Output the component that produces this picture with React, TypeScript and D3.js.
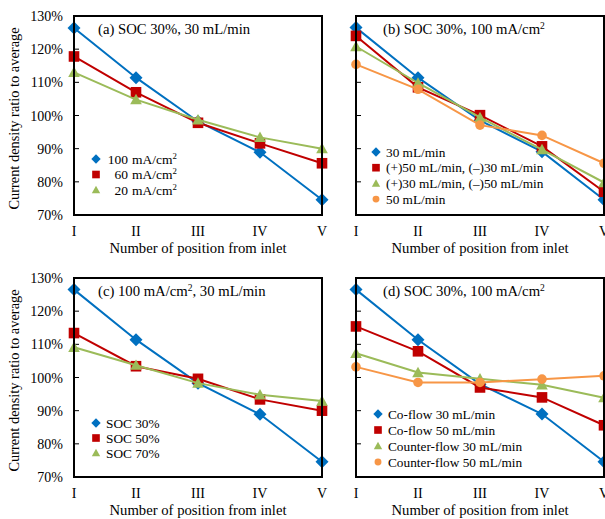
import React from "react";
import * as d3 from "d3";

// positions along the cell, inlet to outlet
const positions = ["I", "II", "III", "IV", "V"];
const yTicks = [70, 80, 90, 100, 110, 120, 130];

// (a) SOC 30%, 30 mL/min
const a100 = [126.4, 111.4, 98.2, 88.9, 74.6];
const a60 = [117.8, 107.0, 97.8, 91.6, 85.6];
const a20 = [113.0, 104.8, 98.7, 93.4, 90.0];

// (b) SOC 30%, 100 mA/cm2
const b30 = [126.5, 111.4, 98.5, 89.1, 74.6];
const b50p30n = [124.0, 108.5, 100.1, 90.7, 77.0];
const b30p50n = [120.8, 109.8, 99.4, 89.7, 79.8];
const b50 = [115.4, 107.9, 97.1, 94.0, 85.6];

// (c) 100 mA/cm2, 30 mL/min
const cSoc30 = [126.5, 111.4, 98.3, 88.9, 74.6];
const cSoc50 = [113.4, 103.4, 99.6, 93.4, 90.0];
const cSoc70 = [109.1, 103.7, 98.3, 94.8, 92.9];

// (d) SOC 30%, 100 mA/cm2
const dCo30 = [126.5, 111.4, 98.0, 89.0, 74.6];
const dCo50 = [115.4, 107.9, 97.0, 94.0, 85.6];
const dCounter30 = [107.3, 101.5, 99.6, 97.8, 93.9];
const dCounter50 = [103.2, 98.5, 98.5, 99.5, 100.5];

const BLUE = "#0070C0";
const RED = "#C00000";
const GREEN = "#9BBB59";
const ORANGE = "#F79646";
const FONT = "'Liberation Serif', 'Times New Roman', serif";

type Shape = "diamond" | "square" | "triangle" | "circle";
type Series = { values: number[]; color: string; shape: Shape; label: React.ReactNode };

const sup2 = (
  <tspan fontSize="0.65em" baselineShift="super">
    2
  </tspan>
);

const panels = [
  {
    left: 74,
    top: 16,
    title: <>(a) SOC 30%, 30 mL/min</>,
    yLabels: true,
    legend: { x: 96, y: 159, step: 15.5 },
    series: [
      { values: a100, color: BLUE, shape: "diamond", label: ["100", <>mA/cm{sup2}</>] },
      { values: a60, color: RED, shape: "square", label: ["60", <>mA/cm{sup2}</>] },
      { values: a20, color: GREEN, shape: "triangle", label: ["20", <>mA/cm{sup2}</>] },
    ],
  },
  {
    left: 356,
    top: 16,
    title: <>(b) SOC 30%, 100 mA/cm{sup2}</>,
    yLabels: false,
    legend: { x: 376, y: 152, step: 15.7 },
    series: [
      { values: b30, color: BLUE, shape: "diamond", label: "30 mL/min" },
      { values: b50p30n, color: RED, shape: "square", label: "(+)50 mL/min, (\u2013)30 mL/min" },
      { values: b30p50n, color: GREEN, shape: "triangle", label: "(+)30 mL/min, (\u2013)50 mL/min" },
      { values: b50, color: ORANGE, shape: "circle", label: "50 mL/min" },
    ],
  },
  {
    left: 74,
    top: 278,
    title: <>(c) 100 mA/cm{sup2}, 30 mL/min</>,
    yLabels: true,
    legend: { x: 96, y: 423, step: 15 },
    series: [
      { values: cSoc30, color: BLUE, shape: "diamond", label: "SOC 30%" },
      { values: cSoc50, color: RED, shape: "square", label: "SOC 50%" },
      { values: cSoc70, color: GREEN, shape: "triangle", label: "SOC 70%" },
    ],
  },
  {
    left: 356,
    top: 278,
    title: <>(d) SOC 30%, 100 mA/cm{sup2}</>,
    yLabels: false,
    legend: { x: 378, y: 414, step: 16 },
    series: [
      { values: dCo30, color: BLUE, shape: "diamond", label: "Co-flow 30 mL/min" },
      { values: dCo50, color: RED, shape: "square", label: "Co-flow 50 mL/min" },
      { values: dCounter30, color: GREEN, shape: "triangle", label: "Counter-flow 30 mL/min" },
      { values: dCounter50, color: ORANGE, shape: "circle", label: "Counter-flow 50 mL/min" },
    ],
  },
];

const plotW = 248;
const plotH = 199;

function Marker({ shape, x, y, color, s = 1 }: { shape: Shape; x: number; y: number; color: string; s?: number }) {
  if (shape === "diamond") {
    const r = 6.5 * s;
    return <path d={`M${x},${y - r}L${x + r},${y}L${x},${y + r}L${x - r},${y}Z`} fill={color} />;
  }
  if (shape === "square") {
    const r = 5.3 * s;
    return <rect x={x - r} y={y - r} width={2 * r} height={2 * r} fill={color} />;
  }
  if (shape === "triangle") {
    const r = 5.8 * s;
    return <path d={`M${x},${y - r}L${x + r},${y + r * 0.8}L${x - r},${y + r * 0.8}Z`} fill={color} />;
  }
  return <circle cx={x} cy={y} r={4.8 * s} fill={color} />;
}

function Panel({ p }: { p: (typeof panels)[number] }) {
  const x = d3.scalePoint<string>().domain(positions).range([0, plotW]);
  const y = d3.scaleLinear().domain([70, 130]).range([plotH, 0]);
  const line = d3
    .line<number>()
    .x((_, i) => x(positions[i]) as number)
    .y((d) => y(d));

  return (
    <g transform={`translate(${p.left},${p.top})`}>
      {/* y ticks pointing inward */}
      {yTicks.map((t) => (
        <line key={t} x1={0} x2={5} y1={y(t)} y2={y(t)} stroke="#000" strokeWidth={1} />
      ))}
      {p.yLabels &&
        yTicks.map((t) => (
          <text key={t} x={-11} y={y(t) + 5} textAnchor="end" fontSize={14}>
            {t}%
          </text>
        ))}
      {positions.map((c) => (
        <text key={c} x={x(c)} y={plotH + 21} textAnchor="middle" fontSize={14}>
          {c}
        </text>
      ))}
      <text x={plotW / 2} y={plotH + 38} textAnchor="middle" fontSize={14.7}>
        Number of position from inlet
      </text>
      {p.yLabels && (
        <text transform={`translate(-55,${plotH / 2 + 3}) rotate(-90)`} textAnchor="middle" fontSize={14.4}>
          Current density ratio to average
        </text>
      )}

      {(p.series as Series[]).map((s, si) => (
        <g key={si}>
          <path d={line(s.values) ?? ""} fill="none" stroke={s.color} strokeWidth={2} />
          {s.values.map((v, i) => (
            <Marker key={i} shape={s.shape} x={x(positions[i]) as number} y={y(v)} color={s.color} />
          ))}
        </g>
      ))}

      <rect x={0} y={0} width={plotW} height={plotH} fill="none" stroke="#000" strokeWidth={2} />

      <text x={p.left === 74 ? 24 : 27} y={18} fontSize={14.7}>
        {p.title}
      </text>

      {(p.series as Series[]).map((s, si) => {
        const lx = p.legend.x - p.left;
        const ly = p.legend.y - p.top + si * p.legend.step;
        return (
          <g key={si}>
            <Marker shape={s.shape} x={lx} y={ly} color={s.color} s={0.72} />
            {Array.isArray(s.label) ? (
              <>
                <text x={lx + 32} y={ly + 4.5} textAnchor="end" fontSize={13.5}>
                  {s.label[0]}
                </text>
                <text x={lx + 36} y={ly + 4.5} fontSize={13.5}>
                  {s.label[1]}
                </text>
              </>
            ) : (
              <text x={lx + 10} y={ly + 4.5} fontSize={13.3}>
                {s.label}
              </text>
            )}
          </g>
        );
      })}
    </g>
  );
}

export default function App() {
  return (
    <svg
      width={605}
      height={519}
      style={{ position: "absolute", left: 0, top: 0, background: "#fff" }}
      fontFamily={FONT}
    >
      <rect width={605} height={519} fill="#fff" />
      {panels.map((p, i) => (
        <Panel key={i} p={p} />
      ))}
    </svg>
  );
}
